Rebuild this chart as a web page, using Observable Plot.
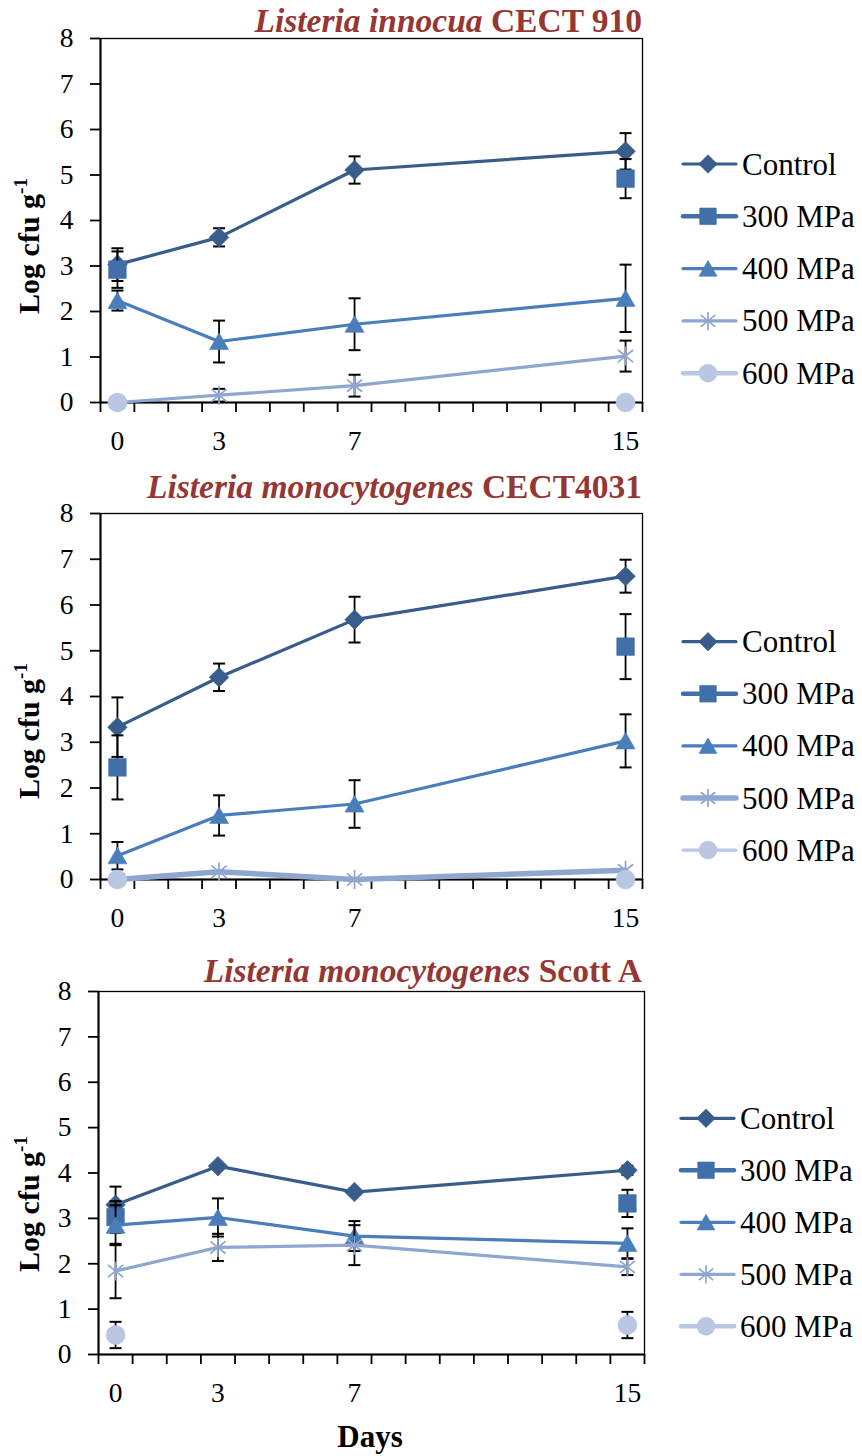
<!DOCTYPE html>
<html><head><meta charset="utf-8">
<script src="https://cdn.jsdelivr.net/npm/d3@7"></script>
<script src="https://cdn.jsdelivr.net/npm/@observablehq/plot@0.6"></script>
<style>
body{margin:0;background:#fff;}
#wrap{position:relative;width:862px;height:1456px;overflow:hidden;font-family:"Liberation Serif","Times New Roman",serif;}
.panel{position:absolute;left:0;}
#overlay{position:absolute;left:0;top:0;pointer-events:none;}
</style></head><body><div id="wrap"></div>
<script>
// ---------- data ----------
const days = [0, 3, 7, 15];
const dayLabels = ["0", "3", "7", "15"];
const seriesNames = ["Control", "300 MPa", "400 MPa", "500 MPa", "600 MPa"];
const seriesColors = ["#385D8A", "#4170A8", "#4A7EBB", "#8FA6D0", "#B9C7E2"];
const yTicks = [0, 1, 2, 3, 4, 5, 6, 7, 8];
const titleItalic = ["Listeria innocua", "Listeria monocytogenes", "Listeria monocytogenes"];
const titleRest = ["CECT 910", "CECT4031", "Scott A"];
const yLabel = "Log cfu g";
const yLabelSup = "-1";
const xLabel = "Days";

// Listeria innocua CECT 910 (rows: Control, 300, 400, 500, 600 MPa; cols: days 0,3,7,15)
const innocuaMean = [
  [3.03, 3.63, 5.11, 5.52],
  [2.92, null, null, 4.92],
  [2.24, 1.34, 1.72, 2.29],
  [0, 0.16, 0.37, 1.02],
  [0, null, null, 0]
];
const innocuaSD = [
  [0.36, 0.2, 0.3, 0.4],
  [0.4, null, null, 0.43],
  [0.22, 0.46, 0.57, 0.74],
  [0, 0.14, 0.24, 0.34],
  [0, null, null, 0]
];
// Listeria monocytogenes CECT4031
const cect4031Mean = [
  [3.33, 4.42, 5.68, 6.63],
  [2.45, null, null, 5.09],
  [0.52, 1.40, 1.65, 3.03],
  [0, 0.17, 0, 0.2],
  [0, null, null, 0]
];
const cect4031SD = [
  [0.65, 0.3, 0.5, 0.36],
  [0.7, null, null, 0.71],
  [0.3, 0.44, 0.52, 0.58],
  [0, 0, 0, 0],
  [0, null, null, 0]
];
// Listeria monocytogenes Scott A
const scottMean = [
  [3.3, 4.15, 3.58, 4.06],
  [3.03, null, null, 3.33],
  [2.85, 3.02, 2.61, 2.45],
  [1.84, 2.36, 2.41, 1.93],
  [0.43, null, null, 0.65]
];
const scottSD = [
  [0.4, 0.05, 0.05, 0.1],
  [0.35, null, null, 0.3],
  [0.44, 0.42, 0.33, 0.33],
  [0.6, 0.3, 0.44, 0.18],
  [0.29, null, null, 0.29]
];

// ---------- symbols ----------
const rad = s => Math.sqrt(s / Math.PI);
const sym = {
  diamond: {draw(c, s) { const r = rad(s); c.moveTo(0, -r); c.lineTo(r, 0); c.lineTo(0, r); c.lineTo(-r, 0); c.closePath(); }},
  square: {draw(c, s) { const r = rad(s); c.rect(-r, -r, 2 * r, 2 * r); }},
  triangle: {draw(c, s) { const r = rad(s); c.moveTo(0, -r * 0.9); c.lineTo(r, r * 0.85); c.lineTo(-r, r * 0.85); c.closePath(); }},
  star: {draw(c, s) { const r = rad(s); const d = r * 0.8; c.moveTo(0, -r); c.lineTo(0, r); c.moveTo(-d, -d * 0.8); c.lineTo(d, d * 0.8); c.moveTo(-d, d * 0.8); c.lineTo(d, -d * 0.8); }},
  circle: {draw(c, s) { const r = rad(s); c.moveTo(r, 0); c.arc(0, 0, r, 0, 2 * Math.PI); }},
  cap: {draw(c, s) { const r = rad(s); c.moveTo(-r, 0); c.lineTo(r, 0); }}
};
const markerSymbols = [sym.diamond, sym.square, sym.triangle, sym.star, sym.circle];
const markerR = [9.8, 8.8, 9.5, 9.5, 9.5];

const panels = [
  {mean: innocuaMean, sd: innocuaSD, top: 0, mTop: 38, plotH: 364, mBottom: 68, mLeft: 100, lw: [3.2, 3.2, 3.2, 3.2, 4], legendLw: [3.2, 4.5, 3.2, 3.2, 4.5], legendY: 164, legendStep: 52.3, lx: 683, titleY: 32, labelCY: 246},
  {mean: cect4031Mean, sd: cect4031SD, top: 470, mTop: 43, plotH: 366, mBottom: 71, mLeft: 100, lw: [3.2, 3.2, 3.2, 5.5, 4], legendLw: [3.2, 4.5, 3.2, 5.5, 3.2], legendY: 641.7, legendStep: 52.1, lx: 683, titleY: 498, labelCY: 731},
  {mean: scottMean, sd: scottSD, top: 950, mTop: 41, plotH: 363, mBottom: 102, mLeft: 98, lw: [3.2, 3.2, 3.2, 3.2, 4], legendLw: [3.2, 4.5, 3.2, 3.2, 4.5], legendY: 1118.3, legendStep: 52, lx: 681, titleY: 982, labelCY: 1204}
];

const wrap = document.getElementById("wrap");
const W = 662;
const FS = 27.5;

panels.forEach(p => {
  const marks = [
    Plot.frame({stroke: "black", strokeWidth: 1.3}),
    Plot.axisX({ticks: d3.range(-0.5, 15.6, 1), tickSize: 10, tickFormat: () => "", strokeWidth: 1.8, label: null}),
    Plot.axisX({ticks: days, tickSize: 0, tickPadding: 28, fontSize: FS, tickFormat: d => dayLabels[days.indexOf(d)], label: null}),
    Plot.axisY({ticks: yTicks, tickSize: 10, tickPadding: 17, fontSize: FS, strokeWidth: 1.8, label: null}),
    Plot.ruleX([-0.5], {stroke: "black", strokeWidth: 2}),
    Plot.ruleY([0], {stroke: "black", strokeWidth: 2})
  ];
  seriesNames.forEach((name, i) => {
    const rows = days.map((d, j) => ({day: d, value: p.mean[i][j], sd: p.sd[i][j]}));
    const eb = rows.filter(r => r.value != null && r.sd > 0);
    marks.push(Plot.line(rows, {x: "day", y: "value", stroke: seriesColors[i], strokeWidth: p.lw[i]}));
    marks.push(Plot.ruleX(eb, {x: "day", y1: r => r.value - r.sd, y2: r => r.value + r.sd, stroke: "black", strokeWidth: 1.8}));
    marks.push(Plot.dot(eb, {x: "day", y: r => r.value + r.sd, symbol: sym.cap, r: 6, fill: "none", stroke: "black", strokeWidth: 2}));
    marks.push(Plot.dot(eb, {x: "day", y: r => r.value - r.sd, symbol: sym.cap, r: 6, fill: "none", stroke: "black", strokeWidth: 2}));
    marks.push(Plot.dot(rows.filter(r => r.value != null), {
      x: "day", y: "value", symbol: markerSymbols[i], r: markerR[i],
      fill: i === 3 ? "none" : seriesColors[i], stroke: seriesColors[i], strokeWidth: i === 3 ? 1.7 : 0.6
    }));
  });
  const chart = Plot.plot({
    width: W,
    height: p.mTop + p.plotH + p.mBottom,
    marginTop: p.mTop,
    marginBottom: p.mBottom,
    marginLeft: p.mLeft,
    marginRight: W - 642 - (100 - p.mLeft),
    x: {domain: [-0.5, 15.5], label: null},
    y: {domain: [0, 8], label: null},
    style: {fontFamily: '"Liberation Serif","Times New Roman",serif', fontSize: FS + "px", color: "black", background: "transparent", overflow: "visible"},
    marks
  });
  const holder = document.createElement("div");
  holder.className = "panel";
  holder.style.top = p.top + "px";
  holder.appendChild(chart);
  wrap.appendChild(holder);
});

// ---------- overlay: titles, axis titles, legends ----------
const ov = d3.select("#wrap").append("svg").attr("id", "overlay")
  .attr("width", 862).attr("height", 1456)
  .style("font-family", '"Liberation Serif","Times New Roman",serif');

panels.forEach((p, k) => {
  const t = ov.append("text").attr("x", 642).attr("y", p.titleY)
    .attr("text-anchor", "end").attr("font-size", 33.5).attr("font-weight", "bold")
    .attr("fill", "#953735").style("white-space", "pre");
  t.append("tspan").attr("font-style", "italic").text(titleItalic[k]);
  t.append("tspan").text(" " + titleRest[k]);

  const yl = ov.append("text").attr("transform", `translate(39,${p.labelCY}) rotate(-90)`)
    .attr("text-anchor", "middle").attr("font-weight", "bold").attr("font-size", 30).attr("fill", "black");
  yl.append("tspan").text(yLabel);
  yl.append("tspan").attr("dy", -12).attr("font-size", 19).text(yLabelSup);

  seriesNames.forEach((name, i) => {
    const y = p.legendY + i * p.legendStep;
    ov.append("line").attr("x1", p.lx).attr("x2", p.lx + 53).attr("y1", y).attr("y2", y)
      .attr("stroke", seriesColors[i]).attr("stroke-width", p.legendLw[i]).attr("stroke-linecap", "round");
    ov.append("path").attr("d", d3.symbol(markerSymbols[i], Math.PI * (markerR[i] - 0.5) ** 2)())
      .attr("transform", `translate(${p.lx + 25},${y})`)
      .attr("fill", i === 3 ? "none" : seriesColors[i]).attr("stroke", seriesColors[i])
      .attr("stroke-width", i === 3 ? 1.7 : 0.6);
    ov.append("text").attr("x", p.lx + 59).attr("y", y + 10.5).attr("font-size", 31).attr("fill", "black").text(name);
  });
});

ov.append("text").attr("x", 370).attr("y", 1447).attr("text-anchor", "middle")
  .attr("font-weight", "bold").attr("font-size", 31).attr("fill", "black").text(xLabel);
</script></body></html>
